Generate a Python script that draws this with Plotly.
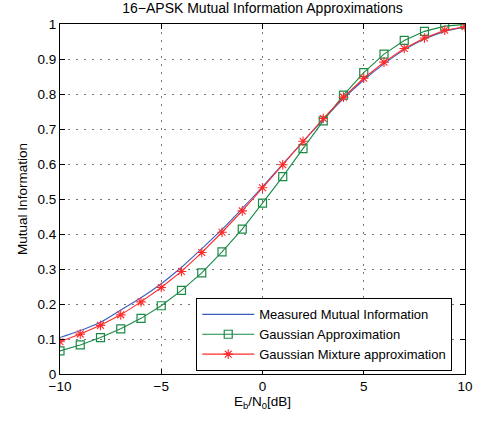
import plotly.graph_objects as go

ebn0 = [-10, -9, -8, -7, -6, -5, -4, -3, -2, -1, 0, 1, 2, 3, 4, 5, 6, 7, 8, 9, 10]

measured = [0.104, 0.124, 0.148, 0.183, 0.218, 0.258, 0.305, 0.358, 0.413, 0.473,
            0.535, 0.600, 0.664, 0.727, 0.787, 0.840, 0.886, 0.926, 0.957, 0.979, 0.991]

gaussian = [0.066, 0.083, 0.104, 0.129, 0.159, 0.195, 0.239, 0.289, 0.349, 0.414,
            0.488, 0.564, 0.644, 0.723, 0.797, 0.861, 0.914, 0.953, 0.979, 0.994, 0.999]

mixture = [0.092, 0.114, 0.139, 0.169, 0.206, 0.247, 0.293, 0.347, 0.405, 0.466,
           0.532, 0.598, 0.665, 0.730, 0.791, 0.845, 0.891, 0.930, 0.960, 0.982, 0.992]

x_ticks = [-10, -5, 0, 5, 10]
y_ticks = [0, 0.1, 0.2, 0.3, 0.4, 0.5, 0.6, 0.7, 0.8, 0.9, 1]
y_ticktext = ["0", "0.1", "0.2", "0.3", "0.4", "0.5", "0.6", "0.7", "0.8", "0.9", "1"]

fig = go.Figure()
fig.add_trace(go.Scatter(
    x=ebn0, y=measured, mode="lines", name="Measured Mutual Information",
    line=dict(color="#3a5cc0", width=1.1, shape="spline"),
))
fig.add_trace(go.Scatter(
    x=ebn0, y=gaussian, mode="lines+markers", name="Gaussian Approximation",
    line=dict(color="#1a8a45", width=1.1),
    marker=dict(symbol="square-open", size=8, color="#1a8a45", line=dict(width=1.2, color="#1a8a45")),
))
fig.add_trace(go.Scatter(
    x=ebn0, y=mixture, mode="lines+markers", name="Gaussian Mixture approximation",
    line=dict(color="#ff2a2a", width=1.1),
    marker=dict(symbol="asterisk-open", size=8, color="#ff2a2a", line=dict(width=1.1, color="#ff2a2a")),
))

axis_common = dict(
    showline=True, linecolor="black", linewidth=1.2, mirror="allticks",
    ticks="inside", ticklen=5, tickcolor="black",
    showgrid=True, gridcolor="#777777", griddash="2px,6px", gridwidth=1,
    zeroline=False, tickfont=dict(size=13.5, color="black"), automargin=False,
)

fig.update_layout(
    width=478, height=421,
    margin=dict(l=60, r=13, t=24, b=47),
    paper_bgcolor="white", plot_bgcolor="white",
    font=dict(family="Liberation Sans, Arial, sans-serif", size=13.5, color="black"),
    title=dict(text="16\u2212APSK Mutual Information Approximations", x=0.5, xanchor="center",
               xref="paper", y=0.992, yanchor="top", font=dict(size=14, color="black")),
    xaxis=dict(range=[-10, 10], tickvals=x_ticks,
               title=dict(text="E<sub>b</sub>/N<sub>0</sub>[dB]", standoff=0, font=dict(size=13.5)),
               **axis_common),
    yaxis=dict(range=[0, 1], tickvals=y_ticks, ticktext=y_ticktext,
               title=dict(text="Mutual Information", standoff=6, font=dict(size=13.5)),
               **axis_common),
    showlegend=True,
    legend=dict(x=0.968, y=0.008, xanchor="right", yanchor="bottom",
                bgcolor="white", bordercolor="black", borderwidth=1.2,
                font=dict(size=13, color="black"), tracegroupgap=0,
                itemwidth=52),
)

fig.write_html("out.html", config={"displayModeBar": False},
               post_script="document.body.style.margin='0';")
